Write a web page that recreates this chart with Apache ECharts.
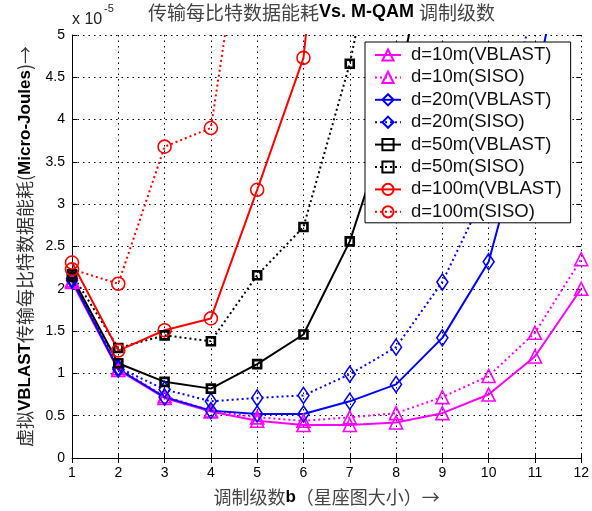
<!DOCTYPE html>
<html><head><meta charset="utf-8">
<script src="https://cdn.jsdelivr.net/npm/echarts@6/dist/echarts.min.js"></script>
<style>html,body{margin:0;padding:0;background:#fff}#c{width:592px;height:511px}</style>
</head><body><div id="c"></div>
<script>
var xValues = [1,2,3,4,5,6,7,8,9,10,11,12];
var yTicks = ['0','0.5','1','1.5','2','2.5','3','3.5','4','4.5','5'];
var d10VBLAST = [2.08,1.04,0.71,0.55,0.44,0.39,0.39,0.42,0.53,0.75,1.20,2.00];
var d10SISO   = [2.10,1.06,0.73,0.56,0.48,0.44,0.48,0.53,0.72,0.97,1.48,2.35];
var d20VBLAST = [2.10,1.05,0.72,0.56,0.52,0.52,0.67,0.87,1.42,2.32,4.35,7.1];
var d20SISO   = [2.12,1.07,0.81,0.67,0.71,0.74,0.99,1.31,2.08,3.22,5.4,9.0];
var d50VBLAST = [2.14,1.12,0.90,0.82,1.11,1.46,2.56,4.23,7.0,11.0,17.0,26.0];
var d50SISO   = [2.17,1.30,1.45,1.38,2.16,2.73,4.66,7.3,11.5,18.0,28.0,42.0];
var d100VBLAST= [2.31,1.27,1.51,1.65,3.17,4.73,9.9,15.0,23.0,35.0,52.0,78.0];
var d100SISO  = [2.23,2.06,3.68,3.90,7.5,12.0,18.0,27.0,40.0,60.0,90.0,130.0];
var seriesNames = ['d=10m(VBLAST)','d=10m(SISO)','d=20m(VBLAST)','d=20m(SISO)','d=50m(VBLAST)','d=50m(SISO)','d=100m(VBLAST)','d=100m(SISO)'];

var chart = echarts.init(document.getElementById('c'), null, {renderer:'canvas'});
var FONT = 'Liberation Sans';
var CJK = 'Noto Sans CJK SC';
function mk(name, vals, color, solid, symbol, size){
  return {
    name: name, type: 'line', data: xValues.map(function(x,i){return [x, vals[i]];}),
    symbol: symbol, symbolSize: size, showSymbol: true, clip: true,
    lineStyle: {color: color, width: 2, type: solid ? 'solid' : [2,3]},
    itemStyle: {color: 'rgba(255,255,255,0)', borderColor: color, borderWidth: 1.6},
    emphasis: {disabled: true}, animation: false, z: 3
  };
}
var series = [
  mk(seriesNames[0], d10VBLAST, '#ff00ff', true, 'triangle', 13),
  mk(seriesNames[1], d10SISO, '#ff00ff', false, 'triangle', 13),
  mk(seriesNames[2], d20VBLAST, '#0000ff', true, 'diamond', [11,16]),
  mk(seriesNames[3], d20SISO, '#0000ff', false, 'diamond', [11,16]),
  mk(seriesNames[4], d50VBLAST, '#000000', true, 'rect', 8),
  mk(seriesNames[5], d50SISO, '#000000', false, 'rect', 8),
  mk(seriesNames[6], d100VBLAST, '#ff0000', true, 'circle', 13),
  mk(seriesNames[7], d100SISO, '#ff0000', false, 'circle', 13)
];
series[4].itemStyle.borderWidth = 2.6;
series[5].itemStyle.borderWidth = 2.6;

var gridLine = {show: true, lineStyle: {color: '#000', width: 1, type: [1.5,4]}};
var option = {
  animation: false,
  backgroundColor: '#fff',
  title: {
    text: '{c|传输每比特数据能耗}{b|Vs. M-QAM }{c|调制级数}',
    left: 148, top: 3, padding: 0,
    textStyle: {rich: {
      c: {fontFamily: CJK, fontSize: 19, color: '#444', fontWeight: 'normal'},
      b: {fontFamily: FONT, fontSize: 18, color: '#000', fontWeight: 'bold'}
    }}
  },
  grid: {left: 72, right: 9, top: 35, bottom: 48, containLabel: false},
  legend: {
    left: 365, top: 42, orient: 'vertical',
    padding: [3, 9, 1, 9],
    backgroundColor: '#fff', borderColor: '#000', borderWidth: 1,
    itemWidth: 26, itemHeight: 14, itemGap: 2.4,
    textStyle: {fontFamily: FONT, fontSize: 18.5, color: '#111', lineHeight: 20, padding: [0,0,0,5]},
    data: seriesNames, z: 10
  },
  xAxis: [{
    type: 'value', min: 1, max: 12, interval: 1,
    axisLine: {show: true, onZero: false, lineStyle: {color: '#000', width: 1}},
    axisTick: {show: true, inside: true, length: 5, lineStyle: {color: '#000'}},
    axisLabel: {fontFamily: FONT, fontSize: 14, color: '#000', margin: 8},
    splitLine: gridLine,
    name: '{c|调制级数}{b|b}{c|（星座图大小）→}', nameLocation: 'middle', nameGap: 30,
    nameTextStyle: {rich: {
      c: {fontFamily: CJK, fontSize: 18, color: '#444'},
      b: {fontFamily: FONT, fontSize: 17, fontWeight: 'bold', color: '#000'}
    }}
  },{
    type: 'value', min: 1, max: 12, interval: 1, position: 'top',
    axisLine: {show: false}, axisLabel: {show: false}, splitLine: {show: false},
    axisTick: {show: true, inside: true, length: 5, lineStyle: {color: '#000'}}
  }],
  yAxis: [{
    type: 'value', min: 0, max: 5, interval: 0.5,
    axisLine: {show: true, onZero: false, lineStyle: {color: '#000', width: 1}},
    axisTick: {show: true, inside: true, length: 5, lineStyle: {color: '#000'}},
    axisLabel: {fontFamily: FONT, fontSize: 14, color: '#000', margin: 7,
      formatter: function(v){ var i = Math.round(v*2); return yTicks[i]; }},
    splitLine: gridLine,
    name: '{c|虚拟}{b|VBLAST}{c|传输每比特数据能耗(}{b|Micro-Joules}{c|)→}',
    nameLocation: 'middle', nameGap: 38, nameRotate: 90,
    nameTextStyle: {rich: {
      c: {fontFamily: CJK, fontSize: 18, color: '#333'},
      b: {fontFamily: FONT, fontSize: 17, fontWeight: 'bold', color: '#000'}
    }}
  },{
    type: 'value', min: 0, max: 5, interval: 0.5, position: 'right',
    axisLine: {show: false}, axisLabel: {show: false}, splitLine: {show: false},
    axisTick: {show: true, inside: true, length: 5, lineStyle: {color: '#000'}}
  }],
  graphic: [
    {type: 'text', left: 72, top: 12, style: {text: 'x 10', font: '16px "Liberation Sans"', fill: '#222'}},
    {type: 'text', left: 104, top: 3, style: {text: '-5', font: '11px "Liberation Sans"', fill: '#222'}}
  ],
  series: series
};
chart.setOption(option);
</script></body></html>
